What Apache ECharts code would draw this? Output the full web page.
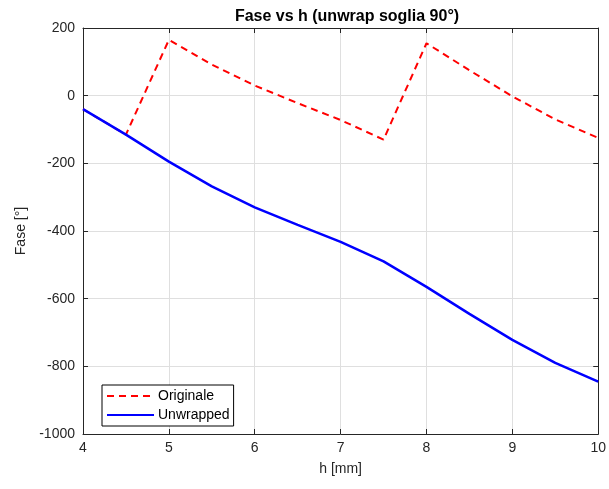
<!DOCTYPE html>
<html lang="en">
<head>
  <meta charset="UTF-8">
  <title>Fase vs h</title>
  <style>
    html, body { margin: 0; padding: 0; background: #fff; }
    #chart { width: 609px; height: 489px; }
  </style>
</head>
<body>
<div id="chart"></div>
<script src="https://cdn.jsdelivr.net/npm/echarts@6/dist/echarts.min.js"></script>
<script>
  // dati
  const h = [4, 4.5, 5, 5.5, 6, 6.5, 7, 7.5, 8, 8.5, 9, 9.5, 10];
  const originale = [-40, -115, 165, 92, 30, -22, -72, -130, 155, 75, -2, -70, -125];
  const unwrapped = [-40, -115, -195, -268, -330, -382, -432, -490, -565, -645, -722, -790, -845];

  const font = '"Liberation Sans", Arial, sans-serif';
  const axisCol = '#262626';

  const chart = echarts.init(document.getElementById('chart'));

  const pairs = (ys) => h.map((x, i) => [x, ys[i]]);

  const option = {
    animation: false,
    title: {
      text: 'Fase vs h (unwrap soglia 90°)',
      left: 342, top: 4, textAlign: 'center',
      textStyle: { fontFamily: font, fontSize: 16, fontWeight: 'bold', color: '#000' }
    },
    grid: { left: 83, right: 9, top: 28, bottom: 55 },
    legend: {
      orient: 'vertical',
      left: 102, top: 385,
      itemWidth: 47, itemHeight: 10, itemGap: 5,
      padding: [4, 4, 4, 4],
      borderColor: '#000', borderWidth: 1,
      backgroundColor: '#fff',
      itemStyle: { opacity: 0 },
      textStyle: { fontFamily: font, fontSize: 14, color: '#000', padding: [0, 0, 0, -1] },
      data: ['Originale', 'Unwrapped']
    },
    xAxis: [{
      type: 'value', min: 4, max: 10, interval: 1,
      name: 'h [mm]', nameLocation: 'middle', nameGap: 28,
      nameTextStyle: { fontFamily: font, fontSize: 14, color: axisCol },
      axisLine: { onZero: false, lineStyle: { color: axisCol } },
      axisTick: { inside: true, length: 5, lineStyle: { color: axisCol } },
      axisLabel: { fontFamily: font, fontSize: 14, color: axisCol, margin: 7 },
      splitLine: { show: true, lineStyle: { color: '#dfdfdf' } }
    }, {
      type: 'value', min: 4, max: 10, interval: 1, position: 'top',
      axisLine: { onZero: false, lineStyle: { color: axisCol } },
      axisTick: { inside: true, length: 5, lineStyle: { color: axisCol } },
      axisLabel: { show: false }, splitLine: { show: false }
    }],
    yAxis: [{
      type: 'value', min: -1000, max: 200, interval: 200,
      name: 'Fase [°]', nameLocation: 'middle', nameGap: 50,
      nameTextStyle: { fontFamily: font, fontSize: 14, color: axisCol },
      axisLine: { show: true, onZero: false, lineStyle: { color: axisCol } },
      axisTick: { show: true, inside: true, length: 5, lineStyle: { color: axisCol } },
      axisLabel: { fontFamily: font, fontSize: 14, color: axisCol, margin: 8, formatter: (v) => String(v) },
      splitLine: { show: true, lineStyle: { color: '#dfdfdf' } }
    }, {
      type: 'value', min: -1000, max: 200, interval: 200, position: 'right',
      axisLine: { show: true, onZero: false, lineStyle: { color: axisCol } },
      axisTick: { show: true, inside: true, length: 5, lineStyle: { color: axisCol } },
      axisLabel: { show: false }, splitLine: { show: false }
    }],
    series: [{
      name: 'Originale', type: 'line', data: pairs(originale),
      symbol: 'none', z: 2,
      lineStyle: { color: '#ff0000', width: 2, type: [7, 5] },
      itemStyle: { color: '#ff0000' }
    }, {
      name: 'Unwrapped', type: 'line', data: pairs(unwrapped),
      symbol: 'none', z: 3,
      lineStyle: { color: '#0000ff', width: 2.5 },
      itemStyle: { color: '#0000ff' }
    }]
  };

  chart.setOption(option);
</script>
</body>
</html>
